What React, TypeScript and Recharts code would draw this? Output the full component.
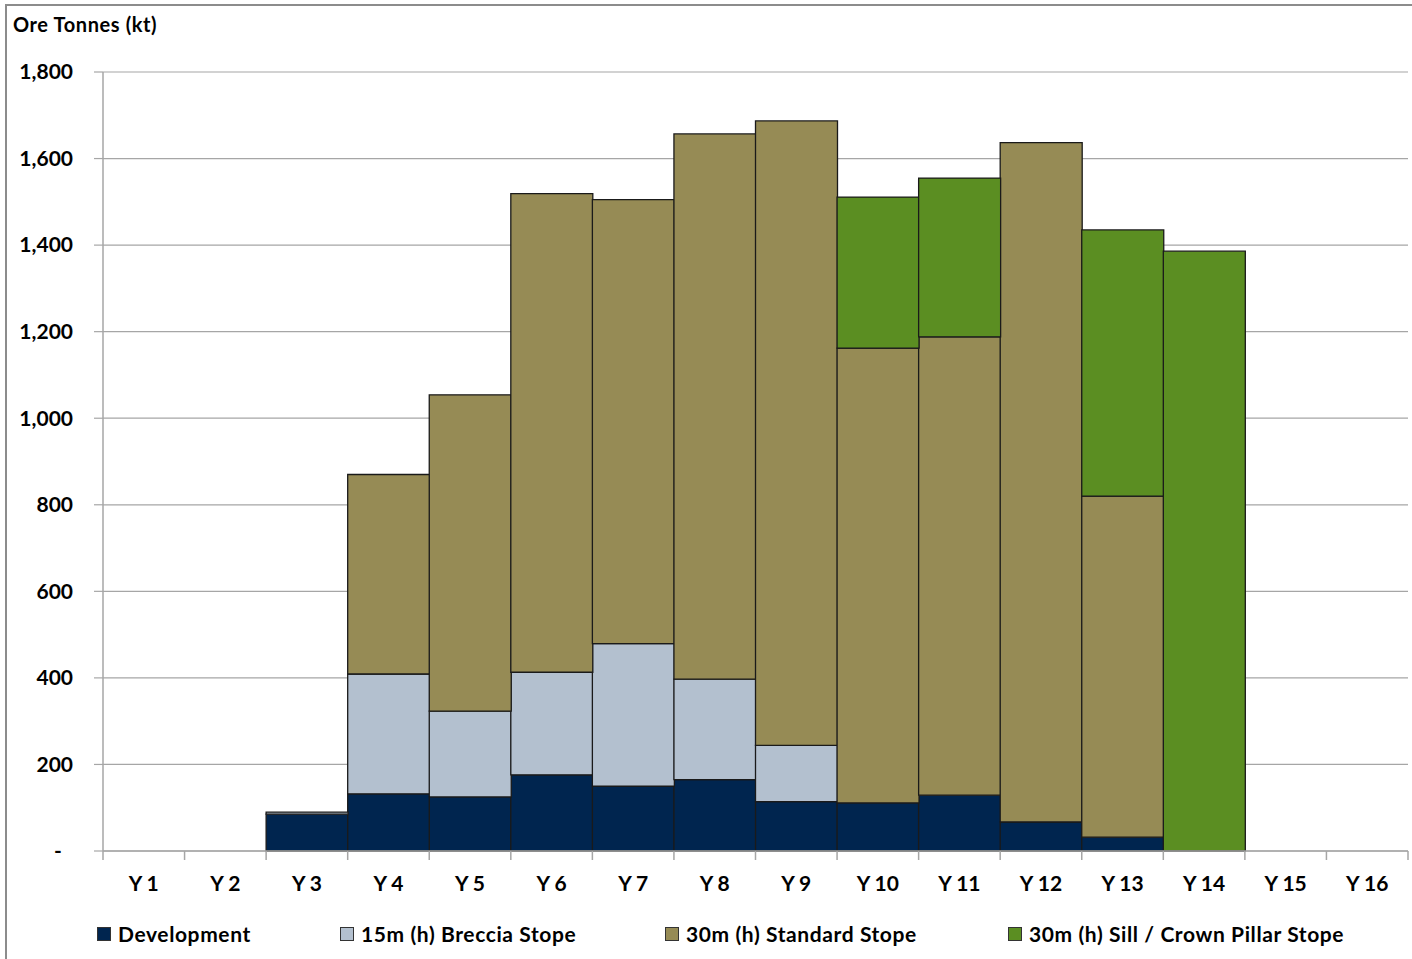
import React from "react";
import {
  Bar,
  BarChart,
  CartesianGrid,
  XAxis,
  YAxis,
} from "recharts";

const years = [
  "Y 1", "Y 2", "Y 3", "Y 4", "Y 5", "Y 6", "Y 7", "Y 8",
  "Y 9", "Y 10", "Y 11", "Y 12", "Y 13", "Y 14", "Y 15", "Y 16",
];
const development = [0, 0, 85, 132, 125, 176, 150, 165, 114, 111, 129, 67, 32, 0, 0, 0];
const breccia = [0, 0, 5, 277, 198, 237, 329, 232, 130, 0, 0, 0, 0, 0, 0, 0];
const standard = [0, 0, 0, 461, 731, 1106, 1026, 1260, 1443, 1051, 1059, 1570, 788, 0, 0, 0];
const sillCrown = [0, 0, 0, 0, 0, 0, 0, 0, 0, 349, 367, 0, 615, 1386, 0, 0];
const yTicks = [0, 200, 400, 600, 800, 1000, 1200, 1400, 1600, 1800];

const series = [
  { key: "development", name: "Development", color: "#00254F" },
  { key: "breccia", name: "15m (h) Breccia Stope", color: "#B3C0CF" },
  { key: "standard", name: "30m (h) Standard Stope", color: "#968B55" },
  { key: "sillCrown", name: "30m (h) Sill / Crown Pillar Stope", color: "#5B8E22" },
];

const data = years.map((year, i) => ({
  year,
  development: development[i],
  breccia: breccia[i],
  standard: standard[i],
  sillCrown: sillCrown[i],
}));

const FONT = "Lato, 'Open Sans', sans-serif";
const GRID = "#A6A6A6";

const YTick = ({ x, y, payload }: any) => {
  if (payload.value === 0) {
    return (
      <text x={58} y={y} dy="0.35em" textAnchor="middle" fontFamily={FONT} fontWeight={700} fontSize={21} fill="#000">
        -
      </text>
    );
  }
  return (
    <text x={x - 19} y={y} dy="0.35em" textAnchor="end" fontFamily={FONT} fontWeight={700} fontSize={21} fill="#000">
      {payload.value.toLocaleString("en-US")}
    </text>
  );
};

// category label plus tick marks on the category boundaries (Excel style)
const XTick = ({ x, y, payload, index, visibleTicksCount }: any) => {
  const half = payload.offset || 0;
  const axisY = y - 8;
  const last = index === visibleTicksCount - 1;
  return (
    <g>
      <line x1={x - half} x2={x - half} y1={axisY} y2={axisY + 9} stroke={GRID} strokeWidth={1.5} />
      {last && (
        <line x1={x + half} x2={x + half} y1={axisY} y2={axisY + 9} stroke={GRID} strokeWidth={1.5} />
      )}
      <text x={x} y={axisY + 33} dy="0.35em" textAnchor="middle" fontFamily={FONT} fontWeight={700} fontSize={21} fill="#000">
        {payload.value}
      </text>
    </g>
  );
};

const legendLeft = [97, 340, 665, 1008];

export default function App() {
  return (
    <div style={{ position: "absolute", left: 0, top: 0, width: 1412, height: 959, background: "#fff", overflow: "hidden" }}>
      <div
        style={{
          position: "absolute",
          left: 5,
          top: 4,
          width: 1430,
          height: 980,
          border: "2px solid #8C8C8C",
          boxSizing: "border-box",
        }}
      />
      <div
        style={{
          position: "absolute",
          left: 13,
          top: 12,
          fontFamily: FONT,
          fontWeight: 700,
          fontSize: 20,
          letterSpacing: 0.6,
          color: "#000",
        }}
      >
        Ore Tonnes (kt)
      </div>
      <div style={{ position: "absolute", left: 0, top: 0 }}>
        <BarChart
          width={1412}
          height={959}
          data={data}
          barCategoryGap={0}
          margin={{ top: 72, right: 4, bottom: 40, left: 0 }}
        >
          <CartesianGrid horizontal vertical={false} stroke={GRID} strokeWidth={1.2} />
          <XAxis
            dataKey="year"
            axisLine={{ stroke: GRID, strokeWidth: 1.5 }}
            tickLine={false}
            interval={0}
            tickSize={0}
            tickMargin={8}
            height={68}
            tick={<XTick />}
          />
          <YAxis
            width={103}
            domain={[0, 1800]}
            ticks={yTicks}
            interval={0}
            axisLine={{ stroke: GRID, strokeWidth: 1.5 }}
            tickLine={{ stroke: GRID, strokeWidth: 1.2 }}
            tickSize={9}
            tick={<YTick />}
          />
          {series.map((s) => (
            <Bar
              key={s.key}
              dataKey={s.key}
              name={s.name}
              stackId="ore"
              fill={s.color}
              stroke="#1A1A1A"
              strokeWidth={1.3}
              isAnimationActive={false}
            />
          ))}
        </BarChart>
      </div>
      {series.map((s, i) => (
        <div
          key={s.key}
          style={{
            position: "absolute",
            left: legendLeft[i],
            top: 921,
            display: "flex",
            alignItems: "center",
            fontFamily: FONT,
            fontWeight: 700,
            fontSize: 21,
            letterSpacing: 0.6,
            color: "#000",
            whiteSpace: "nowrap",
          }}
        >
          <span
            style={{
              display: "inline-block",
              width: 12,
              height: 12,
              background: s.color,
              border: "1px solid #333",
              marginRight: 7,
            }}
          />
          {s.name}
        </div>
      ))}
    </div>
  );
}
